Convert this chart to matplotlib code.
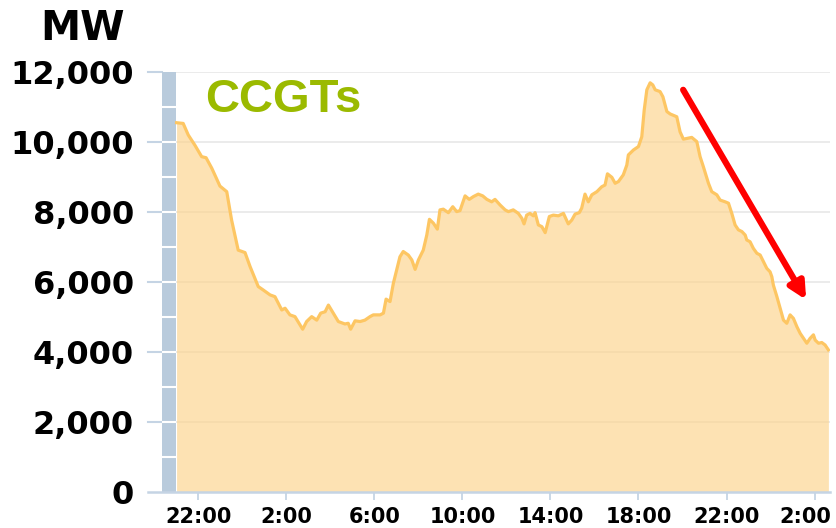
import matplotlib
matplotlib.use("Agg")
import matplotlib.pyplot as plt
import matplotlib.transforms as mtransforms

# hours after 22:00 on the first evening, CCGT output in MW
hours = [-0.99, -0.69, -0.46, -0.16, 0.15, 0.35, 0.61, 0.98, 1.29, 1.51,
         1.81, 2.12, 2.35, 2.72, 2.95, 3.26, 3.48, 3.79, 3.94, 4.16,
         4.39, 4.62, 4.74, 4.92, 5.15, 5.38, 5.56, 5.76, 5.91, 6.13,
         6.36, 6.66, 6.81, 6.92, 7.12, 7.35, 7.57, 7.80, 7.95, 8.26,
         8.41, 8.53, 8.71, 8.86, 9.01, 9.16, 9.31, 9.54, 9.70, 9.85,
         10.00, 10.22, 10.38, 10.50, 10.68, 10.86, 10.98, 11.13, 11.36, 11.56,
         11.74, 11.89, 12.12, 12.31, 12.50, 12.72, 12.92, 13.11, 13.33, 13.48,
         13.71, 13.94, 14.09, 14.31, 14.54, 14.70, 14.80, 14.92, 15.07, 15.22,
         15.30, 15.45, 15.61, 15.76, 15.95, 16.13, 16.36, 16.59, 16.81, 16.97,
         17.12, 17.31, 17.42, 17.57, 17.72, 17.88, 18.11, 18.33, 18.48, 18.59,
         18.79, 18.94, 19.09, 19.31, 19.47, 19.54, 19.77, 20.00, 20.15, 20.26,
         20.38, 20.53, 20.65, 20.76, 20.98, 21.11, 21.29, 21.44, 21.74, 21.89,
         22.04, 22.27, 22.42, 22.65, 22.80, 22.95, 23.18, 23.33, 23.56, 23.71,
         23.94, 24.09, 24.24, 24.39, 24.54, 24.70, 24.85, 24.92, 25.07, 25.22,
         25.38, 25.53, 25.68, 25.83, 25.98, 26.06, 26.13, 26.29, 26.44, 26.59,
         26.74, 26.89, 27.04, 27.20, 27.35, 27.50, 27.65, 27.80, 27.95, 28.03,
         28.18, 28.33, 28.48, 28.63]
mw = [10550, 10530, 10200, 9910, 9580, 9550, 9250, 8740, 8580, 7770,
      6910, 6840, 6440, 5870, 5770, 5630, 5580, 5200, 5250, 5060,
      5010, 4770, 4650, 4870, 5010, 4910, 5110, 5150, 5340, 5110,
      4870, 4800, 4820, 4650, 4890, 4870, 4910, 5010, 5060, 5060,
      5110, 5510, 5440, 5960, 6340, 6720, 6870, 6770, 6630, 6360,
      6630, 6910, 7340, 7790, 7680, 7510, 8060, 8080, 7980, 8150,
      8010, 8040, 8460, 8360, 8440, 8510, 8460, 8360, 8290, 8360,
      8200, 8060, 8010, 8060, 7960, 7820, 7660, 7910, 7960, 7890,
      7980, 7630, 7580, 7410, 7870, 7910, 7890, 7960, 7660, 7770,
      7940, 7980, 8110, 8510, 8290, 8490, 8580, 8720, 8770, 9090,
      8990, 8820, 8870, 9060, 9340, 9630, 9770, 9870, 10150, 10910,
      11490, 11690, 11630, 11490, 11440, 11290, 10870, 10800, 10720, 10290,
      10080, 10110, 10130, 10010, 9580, 9290, 8820, 8580, 8490, 8340,
      8290, 8250, 7960, 7630, 7490, 7440, 7340, 7200, 7150, 6960,
      6820, 6770, 6580, 6390, 6290, 6150, 5910, 5580, 5250, 4910,
      4820, 5060, 4960, 4720, 4530, 4390, 4250, 4390, 4490, 4340,
      4250, 4270, 4200, 4060]

tick_hours = [0, 4, 8, 12, 16, 20, 24, 28]
tick_labels = ["22:00", "2:00", "6:00", "10:00", "14:00", "18:00", "22:00", "2:00"]
y_ticks = [0, 2000, 4000, 6000, 8000, 10000, 12000]

fig = plt.figure(figsize=(8.36, 5.28), dpi=100)
ax = fig.add_axes([0.177, 0.0682, 0.816, 0.7955])

x_left, x_right = -2.29, 28.71
bar_left, bar_right = -1.65, -1.0
ax.set_xlim(x_left, x_right)
ax.set_ylim(0, 12000)

# grid lines
for v in y_ticks[1:]:
    ax.axhline(v, color="#e9e9e9", lw=1.3, zorder=0)
    ax.plot([x_left, bar_left], [v, v], color="#c5d4e4", lw=1.5, zorder=1, clip_on=False)

# grey-blue band on the left with white separators
ax.axvspan(bar_left, bar_right, color="#b9cbdc", zorder=1, lw=0)
ax.hlines(range(1000, 12000, 1000), bar_left, bar_right, color="white", lw=1.5, zorder=2)

# area
ax.fill_between(hours, mw, 0, color="#fdd38a", alpha=0.65, lw=0, zorder=3)
ax.plot(hours, mw, color="#fdc663", lw=2.3, zorder=4, solid_joinstyle="round")

# bottom axis line
ax.plot([x_left, x_right], [0, 0], color="#c5d4e4", lw=1.8, zorder=5, clip_on=False)

for s in ax.spines.values():
    s.set_visible(False)

ax.set_yticks(y_ticks)
ax.set_yticklabels([f"{v:,}" for v in y_ticks], fontsize=23, fontweight="bold")
ax.tick_params(axis="y", length=0, pad=10)
ax.set_xticks(tick_hours)
ax.set_xticklabels(tick_labels, fontsize=15, fontweight="bold")
ax.tick_params(axis="x", length=6, width=1.3, color="#c5d4e4", pad=5)
# last label pulled left so it stays inside the picture
last = ax.get_xticklabels()[-1]
last.set_transform(last.get_transform() +
                   mtransforms.ScaledTranslation(-9 / 100, 0, fig.dpi_scale_trans))

fig.text(83 / 836, 1 - 29 / 528, "MW", ha="center", va="center",
         fontsize=29, fontweight="bold")
ax.text(0.3, 10860, "CCGTs", fontsize=34, fontweight="bold", color="#9bba00",
        family="Liberation Sans", va="baseline", ha="left", zorder=6)

# red arrow
ax.annotate("", xy=(27.62, 5490), xytext=(22.03, 11490),
            arrowprops=dict(arrowstyle="-|>,head_length=0.5,head_width=0.25",
                            mutation_scale=20, lw=4.5, color="#ff0000",
                            shrinkA=0, shrinkB=0), zorder=7)

fig.savefig("out.png", dpi=100, facecolor="white")
